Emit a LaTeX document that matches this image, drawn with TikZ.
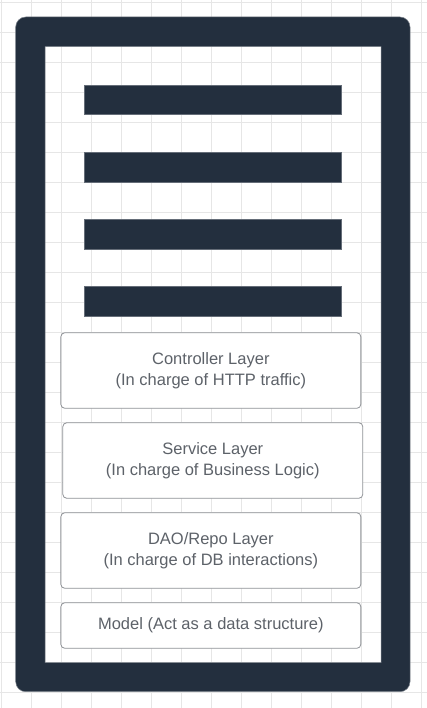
\documentclass[tikz,border=0pt]{standalone}
\usepackage{fontspec}
\setmainfont{Liberation Sans}
\usetikzlibrary{positioning}
\usepackage{xcolor}
\definecolor{squid}{HTML}{232F3E}
\definecolor{layertext}{HTML}{5D6269}
\definecolor{layeredge}{HTML}{8E9196}
\definecolor{gridgray}{HTML}{E6E6E6}

\begin{document}
\begin{tikzpicture}[x=1pt,y=-1pt,
	layer/.style={draw=layeredge,line width=0.8pt,fill=white,rounded corners=4pt,minimum width=300pt,text=layertext,align=center,font=\fontsize{16.5}{20.5}\selectfont},
	bar/.style={fill=squid,draw=squid!70!white,line width=0.5pt}]
	\useasboundingbox (0,0) rectangle (427,708);
	\fill[white] (0,0) rectangle (427,708);
	% background grid
	\foreach \gx in {0,...,14} \draw[gridgray,line width=0.8pt] (1.7+30*\gx,0) -- (1.7+30*\gx,708);
	\foreach \gy in {0,...,23} \draw[gridgray,line width=0.8pt] (0,2.3+30*\gy) -- (427,2.3+30*\gy);
	% server frame
	\fill[squid,even odd rule,draw=squid!60!white,line width=0.5pt] [rounded corners=10pt] (15.7,17) rectangle (410,691.7) [sharp corners] (45,46.7) rectangle (381,662.7);
	% bars
	\draw[bar] (84.5,85) rectangle (341.5,114.5);
	\draw[bar] (84.5,152.3) rectangle (341.5,181.8);
	\draw[bar] (84.5,219.3) rectangle (341.5,248.8);
	\draw[bar] (84.5,286.3) rectangle (341.5,315.8);
	% layers
	\node[layer,minimum height=75.6pt] (ctrl) at (210.85,370.5) {Controller Layer\\(In charge of HTTP traffic)};
	\node[layer,minimum height=75.6pt] (serv) at (212.8,460.5) {Service Layer\\(In charge of Business Logic)};
	\node[layer,minimum height=75.6pt] (dao) at (210.85,550.5) {DAO/Repo Layer\\(In charge of DB interactions)};
	\node[layer,minimum height=45.6pt] (model) at (210.85,625.5) {Model (Act as a data structure)};
\end{tikzpicture}
\end{document}
